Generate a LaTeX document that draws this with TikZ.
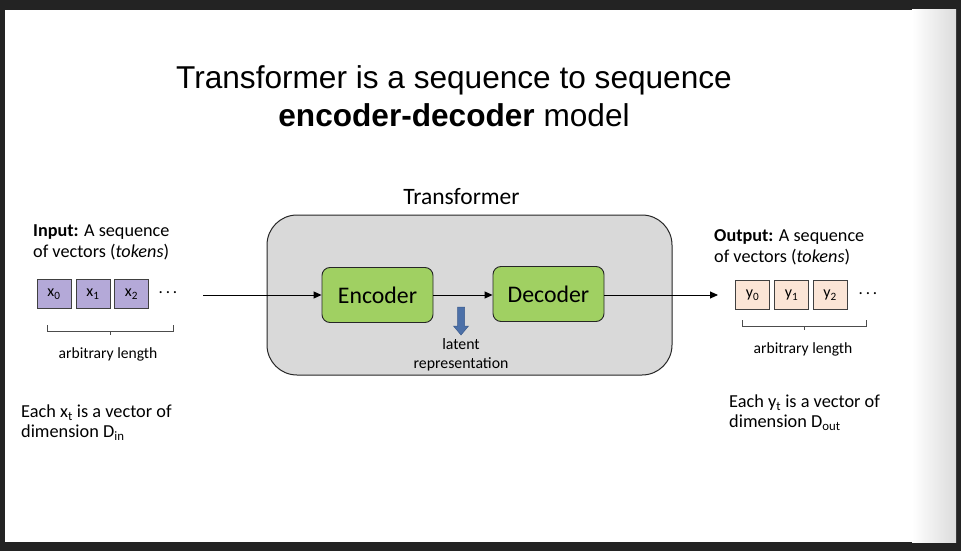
\documentclass[tikz,border=0pt]{standalone}
\usepackage{fontspec}
\setmainfont{Carlito}
\newfontfamily\arialf{Liberation Sans}
\usetikzlibrary{arrows.meta}
\definecolor{frame}{HTML}{232323}
\definecolor{boxgray}{HTML}{D9D9D9}
\definecolor{encgreen}{HTML}{A0D062}
\definecolor{tokpurple}{HTML}{B4A9D8}
\definecolor{tokpeach}{HTML}{FBE5D6}
\definecolor{latblue}{HTML}{4C70A8}
\definecolor{latblueedge}{HTML}{3A5A8C}
\newcommand\fsz[2]{\fontsize{#1}{#2}\selectfont}
\tikzset{
  tok/.style={draw=black!75, line width=0.8pt, minimum width=34pt, minimum height=29pt, inner sep=0pt, font=\fsz{16}{18}},
  intok/.style={tok, fill=tokpurple},
  outtok/.style={tok, fill=tokpeach},
  block/.style={draw=black!85, line width=0.9pt, fill=encgreen, rounded corners=8pt, minimum width=111pt, minimum height=55pt, inner sep=0pt, font=\fsz{23.8}{28}},
  conn/.style={line width=0.9pt, -{Triangle[length=8pt,width=7pt]}},
  plain/.style={inner sep=0pt},
  brace/.style={draw=black!70, line width=0.8pt},
}
\begin{document}
\begin{tikzpicture}[x=1pt,y=-1pt]
\useasboundingbox (0,0) rectangle (961,551);
% frame and slide
\fill[frame] (0,0) rectangle (961,551);
\fill[white] (5,10) rectangle (956,542);
\shade[left color=white, right color=black!14] (912,10) rectangle (956,542);

% title
\node[plain, align=center, font=\arialf\fsz{31.6}{38}] (title) at (454,96)
  {Transformer is a sequence to sequence\\\textbf{encoder-decoder} model};

% transformer box
\node[draw=black!85, line width=1pt, fill=boxgray, rounded corners=30pt,
      minimum width=405pt, minimum height=160pt] (tbox) at (469.5,295) {};
\node[plain, font=\fsz{23.5}{26}] (tlabel) at (461.5,197) {Transformer};

\node[block] (enc) at (377.5,295) {Encoder};
\node[block] (dec) at (548.5,294) {Decoder};

% latent arrow
\fill[latblue, draw=latblueedge, line width=0.5pt]
  (457.5,307) -- (464.5,307) -- (464.5,326) -- (468.5,326) -- (461,335)
  -- (453.5,326) -- (457.5,326) -- cycle;
\node[plain, align=center, font=\fsz{15.8}{19}] (latent) at (461,354.5) {latent\\representation};

% input side
\node[plain, align=left, anchor=west, font=\fsz{18.2}{21}] (intext) at (33,242.5)
  {\textbf{Input:} A sequence\\of vectors (\textit{tokens})};
\node[intok] (x0) at (54,294) {x\textsubscript{0}};
\node[intok] (x1) at (93,294) {x\textsubscript{1}};
\node[intok] (x2) at (131.5,294) {x\textsubscript{2}};
\node[plain, font=\fsz{17}{18}] (xdots) at (168,293) {.\,.\,.};
\coordinate (bl0) at (47,325);
\coordinate (bl1) at (173,325);
\draw[brace] (bl0) -- ++(0,6) -| (bl1);
\draw[brace] (110,331) -- ++(0,4);
\node[plain, font=\fsz{15.6}{18}] (inlen) at (108,354) {arbitrary length};
\node[plain, align=left, anchor=west, font=\fsz{18.3}{20}] (indim) at (21,423)
  {Each x\textsubscript{t} is a vector of\\dimension D\textsubscript{in}};

% output side
\node[plain, align=left, anchor=west, font=\fsz{18.2}{21}] (outtext) at (714,247.5)
  {\textbf{Output:} A sequence\\of vectors (\textit{tokens})};
\node[outtok] (y0) at (752.5,295) {y\textsubscript{0}};
\node[outtok] (y1) at (791.5,295) {y\textsubscript{1}};
\node[outtok] (y2) at (830,295) {y\textsubscript{2}};
\node[plain, font=\fsz{17}{18}] (ydots) at (868,294) {.\,.\,.};
\coordinate (br0) at (742,320);
\coordinate (br1) at (866,320);
\draw[brace] (br0) -- ++(0,6) -| (br1);
\draw[brace] (804,326) -- ++(0,4);
\node[plain, font=\fsz{15.6}{18}] (outlen) at (803,349) {arbitrary length};
\node[plain, align=left, anchor=west, font=\fsz{18.3}{20}] (outdim) at (729,412.5)
  {Each y\textsubscript{t} is a vector of\\dimension D\textsubscript{out}};

% connectors
\coordinate (instart) at (203,295);
\coordinate (outend) at (718,295);
\draw[conn] (instart) -- (instart -| enc.west);
\draw[conn] (enc.east) -- (enc.east -| dec.west);
\draw[conn] (dec.east |- outend) -- (outend);
\end{tikzpicture}
\end{document}
